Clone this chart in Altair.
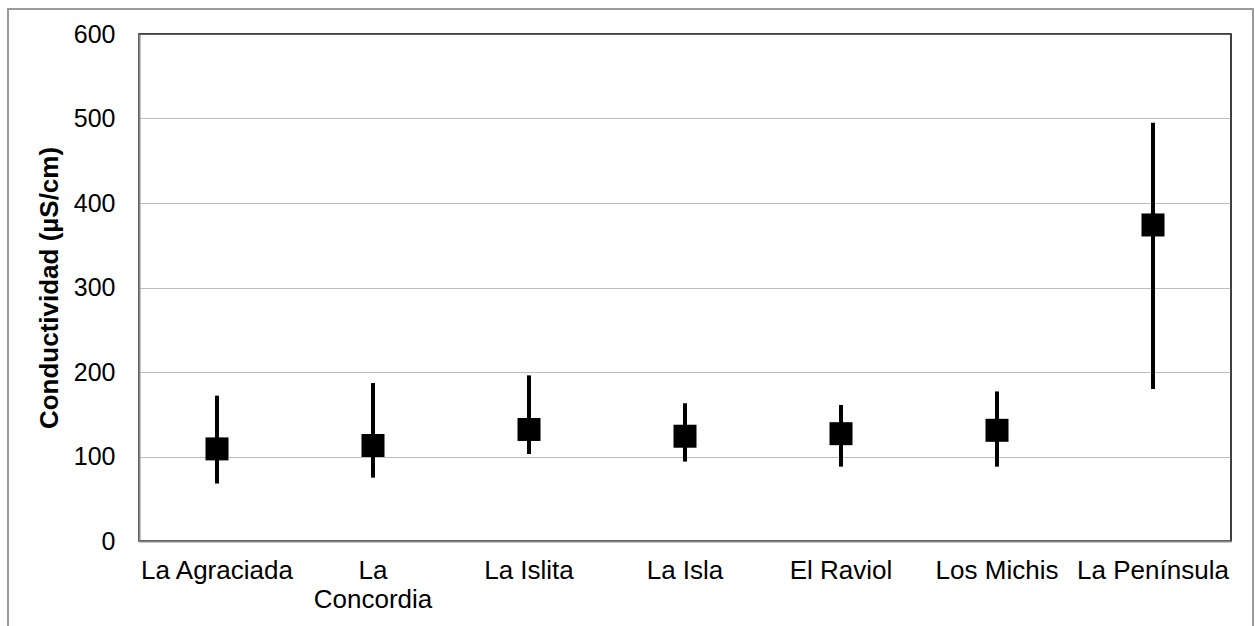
import altair as alt
import pandas as pd

sites = ["La Agraciada", "La Concordia", "La Islita", "La Isla", "El Raviol", "Los Michis", "La Península"]
mean_vals = [109, 113, 132, 124, 127, 131, 374]
low_vals = [68, 75, 103, 94, 88, 88, 180]
high_vals = [172, 187, 196, 163, 161, 177, 495]
y_ticks = [0, 100, 200, 300, 400, 500, 600]

df = pd.DataFrame({"site": sites, "mean": mean_vals, "low": low_vals, "high": high_vals})

FONT = "Liberation Sans"

x_enc = alt.X(
    "site:N",
    sort=sites,
    scale=alt.Scale(paddingInner=0, paddingOuter=0),
    axis=alt.Axis(
        title=None,
        labelAngle=0,
        labelFont=FONT,
        labelFontSize=26,
        labelColor="black",
        labelPadding=16,
        labelLimit=0,
        labelOverlap=False,
        labelLineHeight=29,
        labelExpr="datum.label == 'La Concordia' ? ['La', 'Concordia'] : datum.label",
        ticks=False,
        tickSize=0,
        domainColor="#868686",
        domainWidth=2,
        grid=False,
    ),
)

y_scale = alt.Scale(domain=[0, 600], nice=False, zero=True)
y_axis = alt.Axis(
    title="Conductividad (µS/cm)",
    titleFont=FONT,
    titleFontSize=26,
    titleFontWeight="bold",
    titleColor="black",
    titleAngle=-90,
    titleX=-90,
    titleY=253.5,
    titleAlign="center",
    titleBaseline="middle",
    values=y_ticks,
    labelFont=FONT,
    labelFontSize=25,
    labelColor="black",
    labelPadding=24,
    ticks=False,
    tickSize=0,
    domainColor="#868686",
    domainWidth=2,
    grid=True,
    gridColor="#7a7a7a",
    gridDash=[1, 1],
    gridWidth=1,
)

frame = alt.Chart(df).mark_rect(
    fill=None, stroke="#9a9a9a", strokeWidth=1.5, clip=False
).encode(
    x=alt.value(-131), x2=alt.value(1114), y=alt.value(-25), y2=alt.value(620)
)

rules = alt.Chart(df).mark_rule(color="black", strokeWidth=4).encode(
    x=x_enc,
    y=alt.Y("low:Q", scale=y_scale, axis=y_axis),
    y2="high:Q",
)

points = alt.Chart(df).mark_square(color="black", filled=True, size=529, opacity=1).encode(
    x=alt.X("site:N", sort=sites),
    y=alt.Y("mean:Q"),
)

chart = alt.layer(rules, points, frame).properties(
    width=1092,
    height=507,
    autosize=alt.AutoSizeParams(type="none"),
    padding={"left": 139, "top": 34, "right": 24, "bottom": 85},
    background="white",
).configure_view(
    stroke="black", strokeWidth=1.5
)

chart.save("out.html", embed_options={"renderer": "svg", "actions": False})
